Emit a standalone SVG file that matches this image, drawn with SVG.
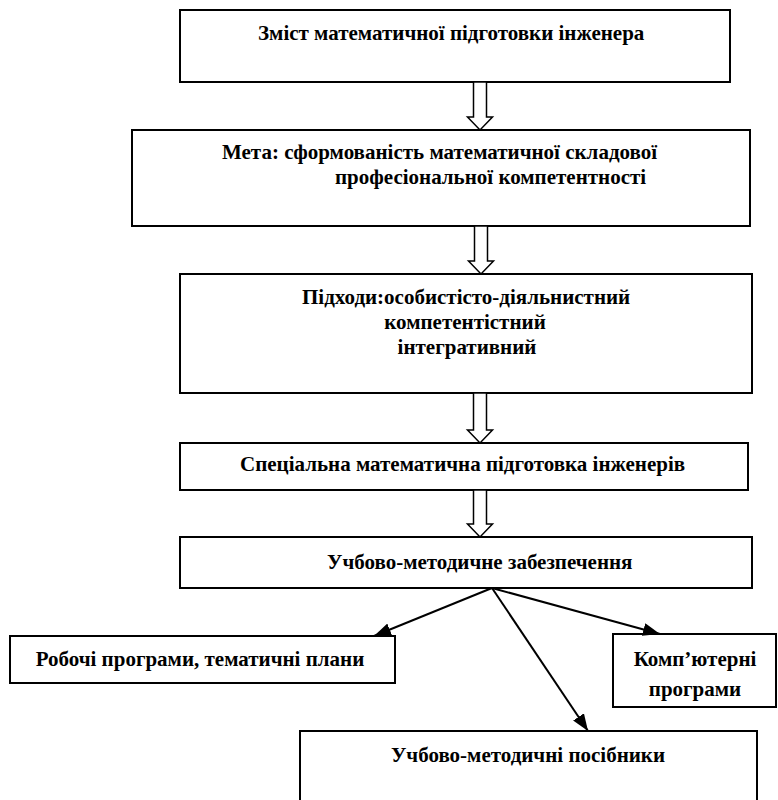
<svg xmlns="http://www.w3.org/2000/svg" width="778" height="800" viewBox="0 0 778 800">
<style>
.box{fill:#fff;stroke:#000;stroke-width:2}
.t{font-family:"Liberation Serif","Times New Roman",serif;font-weight:bold;font-size:21px;fill:#000}
.blk{fill:#fff;stroke:#000;stroke-width:1.5}
.ln{stroke:#000;stroke-width:2;fill:none}
</style>
<defs>
<marker id="ah" viewBox="0 0 10 10" refX="10" refY="5" markerWidth="17" markerHeight="13" markerUnits="userSpaceOnUse" orient="auto" preserveAspectRatio="none">
<path d="M0,0 L10,5 L0,10 z" fill="#000"/>
</marker>
</defs>
<rect width="778" height="800" fill="#fff"/>
<g id="n1"><rect class="box" x="180" y="10" width="550" height="72"/><text class="t" x="258" y="40">Зміст математичної підготовки інженера</text></g>
<g id="n2"><rect class="box" x="132" y="130" width="618" height="96"/><text class="t" x="222" y="159">Мета: сформованість математичної складової</text><text class="t" x="335" y="184">професіональної компетентності</text></g>
<g id="n3"><rect class="box" x="180" y="274" width="572" height="119"/><text class="t" x="302" y="304">Підходи:особистісто-діяльнистний</text><text class="t" x="465" y="329" text-anchor="middle">компетентістний</text><text class="t" x="467" y="354" text-anchor="middle">інтегративний</text></g>
<g id="n4"><rect class="box" x="180" y="443" width="568" height="47"/><text class="t" x="240" y="471">Спеціальна математична підготовка інженерів</text></g>
<g id="n5"><rect class="box" x="180" y="537" width="572" height="51"/><text class="t" x="327" y="569">Учбово-методичне забезпечення</text></g>
<g id="n6"><rect class="box" x="10" y="636" width="385" height="47"/><text class="t" x="200" y="666" text-anchor="middle">Робочі програми, тематичні плани</text></g>
<g id="n7"><rect class="box" x="613" y="634" width="163" height="73"/><text class="t" x="695" y="666" text-anchor="middle">Комп’ютерні</text><text class="t" x="695" y="696" text-anchor="middle">програми</text></g>
<g id="n8"><rect class="box" x="300" y="731" width="457" height="90"/><text class="t" x="528" y="762" text-anchor="middle">Учбово-методичні посібники</text></g>
<g id="connectors">
<polygon class="blk" points="473.5,82 486.5,82 486.5,117 492.5,117 480,130 467.5,117 473.5,117"/>
<polygon class="blk" points="474.5,226 487.5,226 487.5,261 493.5,261 481,274 468.5,261 474.5,261"/>
<polygon class="blk" points="473.5,393 486.5,393 486.5,430 492.5,430 480,443 467.5,430 473.5,430"/>
<polygon class="blk" points="473.5,490 486.5,490 486.5,524 492.5,524 480,537 467.5,524 473.5,524"/>
<line class="ln" x1="492" y1="588" x2="374" y2="636" marker-end="url(#ah)"/>
<line class="ln" x1="492" y1="588" x2="660" y2="634" marker-end="url(#ah)"/>
<line class="ln" x1="492" y1="588" x2="588" y2="731" stroke-width="1.5" marker-end="url(#ah)"/>
</g>
</svg>
